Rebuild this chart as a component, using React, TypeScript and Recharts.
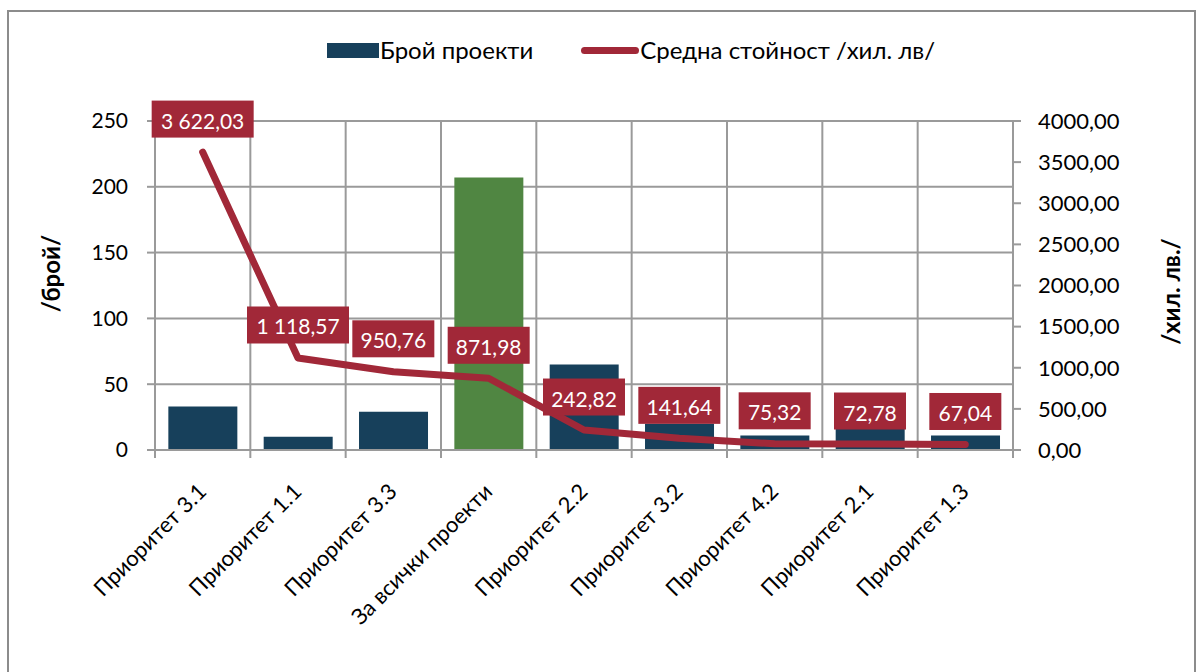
import React from 'react';
import {
  ComposedChart, Bar, Line, XAxis, YAxis, CartesianGrid, Cell, LabelList,
} from 'recharts';

const categories = [
  'Приоритет 3.1', 'Приоритет 1.1', 'Приоритет 3.3', 'За всички проекти',
  'Приоритет 2.2', 'Приоритет 3.2', 'Приоритет 4.2', 'Приоритет 2.1', 'Приоритет 1.3',
];
const projectCounts = [33, 10, 29, 207, 65, 20, 11, 25, 11];
const avgValues = [3622.03, 1118.57, 950.76, 871.98, 242.82, 141.64, 75.32, 72.78, 67.04];
const leftTicks = [0, 50, 100, 150, 200, 250];
const rightTicks = [0, 500, 1000, 1500, 2000, 2500, 3000, 3500, 4000];
const barName = 'Брой проекти';
const lineName = 'Средна стойност /хил. лв/';
const totalCategory = 'За всички проекти';

const data = categories.map((name, i) => ({
  name, count: projectCounts[i], avg: avgValues[i],
}));

const NAVY = '#17405B';
const GREEN = '#508642';
const RED = '#A12838';
const GRID = '#9a9a9a';
const FONT = 'Lato, "Noto Sans", sans-serif';

const W = 1200;
const H = 672;
const LEFT = 155;
const RIGHT_W = 187;
const STEP = (W - LEFT - RIGHT_W) / categories.length;

const fmtComma = (v: number) => v.toFixed(2).replace('.', ',');
const fmtLabel = (v: number) => {
  const [int, dec] = v.toFixed(2).split('.');
  return `${int.replace(/\B(?=(\d{3})+(?!\d))/g, ' ')},${dec}`;
};

function XTick({ x, y, payload, index }: any) {
  const left = x - STEP / 2;
  const tx = x + 5;
  const ty = y + 43;
  return (
    <g>
      <line x1={left} y1={y} x2={left} y2={y + 8} stroke={GRID} strokeWidth={2} />
      {index === categories.length - 1 && (
        <line x1={x + STEP / 2} y1={y} x2={x + STEP / 2} y2={y + 8} stroke={GRID} strokeWidth={2} />
      )}
      <text x={tx} y={ty} transform={`rotate(-45 ${tx} ${ty})`}
        textAnchor="end" fontSize={22} fill="#000" fontFamily={FONT}>
        {payload.value}
      </text>
    </g>
  );
}

function ValueLabel({ x, y, value }: any) {
  const text = fmtLabel(value);
  const w = text.length * 10 + 22;
  const h = 37;
  const cy = y - 33;
  return (
    <g>
      <rect x={x - w / 2} y={cy - h / 2} width={w} height={h} fill={RED} />
      <text x={x} y={cy + 1} textAnchor="middle" dominantBaseline="central"
        fontSize={21} fill="#fff" fontFamily={FONT}>{text}</text>
    </g>
  );
}

function AxisTitle({ viewBox, value, dx, dy }: any) {
  const cx = viewBox.x + dx;
  const cy = viewBox.y + viewBox.height / 2 + dy;
  return (
    <text x={cx} y={cy} transform={`rotate(-90 ${cx} ${cy})`} textAnchor="middle"
      dominantBaseline="central" fontSize={24} fontWeight="bold" fill="#000" fontFamily={FONT}>
      {value}
    </text>
  );
}

export default function App() {
  return (
    <div style={{ position: 'absolute', left: 0, top: 0, width: W, height: H, background: '#fff', fontFamily: FONT }}>
      <div style={{
        position: 'absolute', left: 7, top: 10, width: 1189, height: 680,
        border: '2px solid #8c8c8c', boxSizing: 'border-box',
      }} />
      <div style={{
        position: 'absolute', left: 327, top: 34, display: 'flex', alignItems: 'center',
        fontSize: 24, color: '#000', whiteSpace: 'nowrap', lineHeight: '32px',
      }}>
        <span style={{ display: 'inline-block', width: 52, height: 15, background: NAVY }} />
        <span style={{ marginLeft: 1 }}>{barName}</span>
        <span style={{ display: 'inline-block', width: 58, height: 7, background: RED, borderRadius: 3.5, marginLeft: 48 }} />
        <span style={{ marginLeft: 1 }}>{lineName}</span>
      </div>
      <ComposedChart width={W} height={H} data={data}
        margin={{ top: 121, right: 0, bottom: 0, left: 0 }}
        barCategoryGap="14%">
        <CartesianGrid yAxisId="left" stroke={GRID} strokeWidth={2}
          verticalCoordinatesGenerator={({ offset }: any) =>
            Array.from({ length: categories.length + 1 }, (_, i) => offset.left + i * offset.width / categories.length)} />
        <XAxis dataKey="name" interval={0} height={222} tickSize={0} tickMargin={0}
          axisLine={{ stroke: GRID, strokeWidth: 2 }} tick={<XTick />} />
        <YAxis yAxisId="left" width={LEFT} domain={[0, 250]} ticks={leftTicks}
          tickSize={8} tickMargin={19} tick={{ fontSize: 21, fill: '#000', fontFamily: FONT }}
          axisLine={{ stroke: GRID, strokeWidth: 2 }} tickLine={{ stroke: GRID, strokeWidth: 2 }}
          label={<AxisTitle value="/брой/" dx={50} dy={-12} />} />
        <YAxis yAxisId="right" orientation="right" width={RIGHT_W} domain={[0, 4000]} ticks={rightTicks}
          tickFormatter={fmtComma}
          tickSize={8} tickMargin={17} tick={{ fontSize: 22, fill: '#000', fontFamily: FONT }}
          axisLine={{ stroke: GRID, strokeWidth: 2 }} tickLine={{ stroke: GRID, strokeWidth: 2 }}
          label={<AxisTitle value="/хил. лв./" dx={157} dy={6} />} />
        <Bar yAxisId="left" dataKey="count" name={barName} isAnimationActive={false}>
          {data.map((d) => (
            <Cell key={d.name} fill={d.name === totalCategory ? GREEN : NAVY} />
          ))}
        </Bar>
        <Line yAxisId="right" dataKey="avg" name={lineName} type="linear" stroke={RED}
          strokeWidth={7} strokeLinecap="round" strokeLinejoin="round" dot={false} activeDot={false}
          isAnimationActive={false}>
          <LabelList dataKey="avg" content={<ValueLabel />} />
        </Line>
      </ComposedChart>
    </div>
  );
}
